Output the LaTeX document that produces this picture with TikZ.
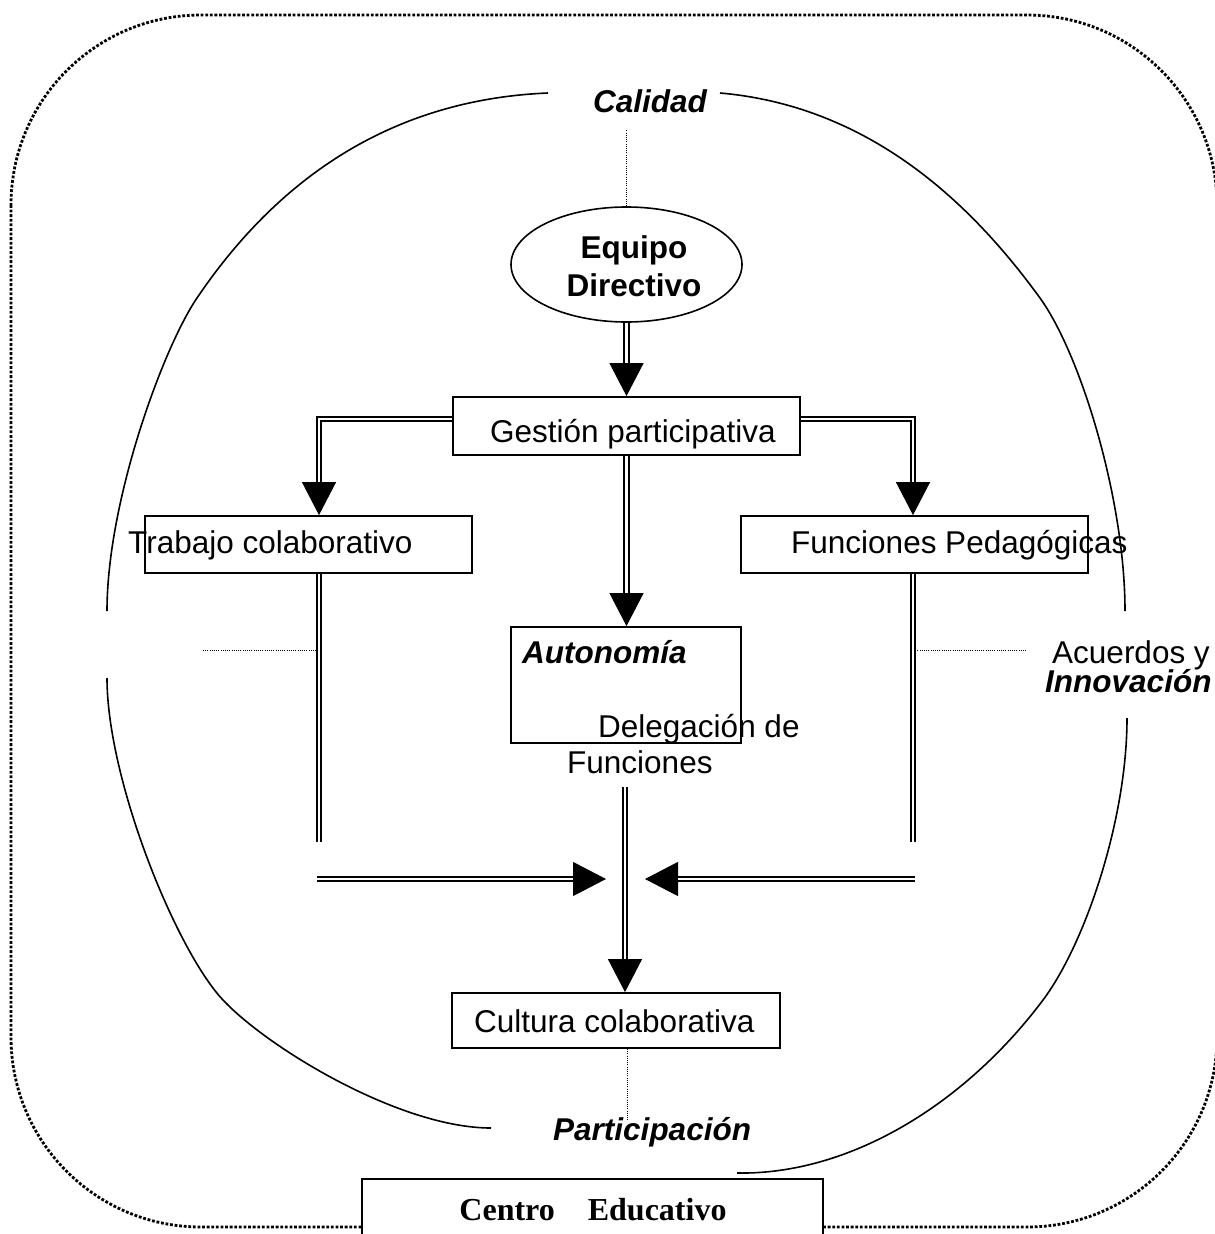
\documentclass[tikz,border=0pt]{standalone}
\usepackage{fontspec}
\setmainfont{Liberation Sans}
\newfontfamily\centrofont{Liberation Serif}
\usetikzlibrary{arrows.meta,shapes.geometric,calc}

\tikzset{
  flowbox/.style={draw, line width=1.8pt, rectangle, inner sep=0pt, fill=white},
  lbl/.style={font=\fontsize{31.5pt}{36pt}\selectfont, inner sep=0pt, anchor=base west},
  lblbi/.style={lbl, font=\fontsize{31.5pt}{36pt}\selectfont\bfseries\itshape},
  dbl/.style={double, double distance=2.6pt, line width=1.8pt},
  tipline/.style={line width=1pt, -{Triangle[length=33pt,width=34pt]}},
  finedot/.style={line width=0.9pt, dash pattern=on 1pt off 1.2pt},
  outerframe/.style={line width=2.8pt, dash pattern=on 2.8pt off 1.8pt},
  rimline/.style={line width=1.6pt},
}

\begin{document}
\begin{tikzpicture}[x=1pt,y=-1pt]
\useasboundingbox (0,0) rectangle (1215,1234);
\fill[white] (0,0) rectangle (1215,1234);
\clip (0,0) rectangle (1215,1234);

% dotted outer frame
\draw[outerframe, rounded corners=190pt] (11,15) rectangle (1217,1227);

% open oval around the diagram, in four pieces
\draw[rimline] (548,93) .. controls (380,100) and (270,190) .. (197,298)
                        .. controls (163,348) and (107,501) .. (107,611);
\draw[rimline] (107,678) .. controls (107,780) and (176,950) .. (223,1000)
                         .. controls (268,1048) and (400,1128) .. (491,1128);
\draw[rimline] (720,93) .. controls (880,107) and (981,217) .. (1040,298)
                        .. controls (1081,355) and (1125,500) .. (1125,611);
\draw[rimline] (1127,718) .. controls (1127,820) and (1085,944) .. (1043,1000)
                          .. controls (965,1104) and (850,1175) .. (737,1173);

% shapes
\node[draw, ellipse, line width=1.6pt, minimum width=231pt, minimum height=115pt, inner sep=0pt] (eq) at (626.5,264.5) {};
\node[flowbox, minimum width=347pt, minimum height=58pt] (gest) at (626.5,426) {};
\node[flowbox, minimum width=327pt, minimum height=57pt] (trab) at (308.5,544.5) {};
\node[flowbox, minimum width=347pt, minimum height=57pt] (func) at (914.5,544.5) {};
\node[flowbox, minimum width=230pt, minimum height=116pt] (auto) at (626,685) {};
\node[flowbox, minimum width=328pt, minimum height=55pt] (cult) at (616,1020.5) {};
\node[flowbox, minimum width=461pt, minimum height=100pt] (centro) at (592.5,1229) {};

% texts
\node[lblbi] (cal) at (593,112) {Calidad};
\node[lbl, anchor=base, font=\fontsize{31.5pt}{36pt}\selectfont\bfseries] (eqa) at (634,258) {Equipo};
\node[lbl, anchor=base, font=\fontsize{31.5pt}{36pt}\selectfont\bfseries] (eqb) at (634,296) {Directivo};
\node[lbl] (gesttxt) at (490,442) {Gestión participativa};
\node[lbl] (trabtxt) at (128,553) {Trabajo colaborativo};
\node[lbl] (functxt) at (791,553) {Funciones Pedagógicas};
\node[lblbi] (autotxt) at (522,663) {Autonomía};
\node[lbl] (delega) at (598,737) {Delegación de};
\node[lbl] (delegb) at (567,773) {Funciones};
\node[lbl] (acu) at (1052,663) {Acuerdos y};
\node[lblbi] (inno) at (1045,692) {Innovación};
\node[lbl] (culttxt) at (474,1032) {Cultura colaborativa};
\node[lblbi] (part) at (553,1140) {Participación};
\node[inner sep=0pt, anchor=base, font=\centrofont\bfseries\fontsize{32pt}{36pt}\selectfont] (centrotxt) at (593,1220) {Centro\hspace{33pt}Educativo};

% free ends of the connectors
\coordinate (calbot) at (626.5,130);
\coordinate (partop) at (627,1120);
\coordinate (lstub) at (319,842);
\coordinate (rstub) at (913,842);
\coordinate (ldot) at (203,650);
\coordinate (rdot) at (1027,650);
\coordinate (la) at (317,879);
\coordinate (lb) at (606,879);
\coordinate (ra) at (915,879);
\coordinate (rb) at (645,879);
\coordinate (dstart) at (625,787);

% fine dotted links
\draw[finedot] (eq.north) -- (calbot);
\draw[finedot] (cult.south -| partop) -- (partop);
\draw[finedot] (ldot) -- (lstub |- ldot);
\draw[finedot] (rstub |- rdot) -- (rdot);

% double-line arrows
\draw[tipline] (eq.south) -- (gest.north);
\draw[dbl, shorten >=33pt] (eq.south) -- (gest.north);

\draw[tipline] ([yshift=7pt]gest.west) -| (trab.north -| lstub);
\draw[dbl, shorten >=33pt] ([yshift=7pt]gest.west) -| (trab.north -| lstub);

\draw[tipline] ([yshift=7pt]gest.east) -| (func.north -| rstub);
\draw[dbl, shorten >=33pt] ([yshift=7pt]gest.east) -| (func.north -| rstub);

\draw[tipline] (gest.south) -- (auto.north -| gest.south);
\draw[dbl, shorten >=33pt] (gest.south) -- (auto.north -| gest.south);

\draw[dbl] (trab.south -| lstub) -- (lstub);
\draw[dbl] (func.south -| rstub) -- (rstub);

\draw[tipline] (la) -- (lb);
\draw[dbl, shorten >=33pt] (la) -- (lb);
\draw[tipline] (ra) -- (rb);
\draw[dbl, shorten >=33pt] (ra) -- (rb);

\draw[tipline] (dstart) -- (cult.north -| dstart);
\draw[dbl, shorten >=33pt] (dstart) -- (cult.north -| dstart);
\end{tikzpicture}
\end{document}
